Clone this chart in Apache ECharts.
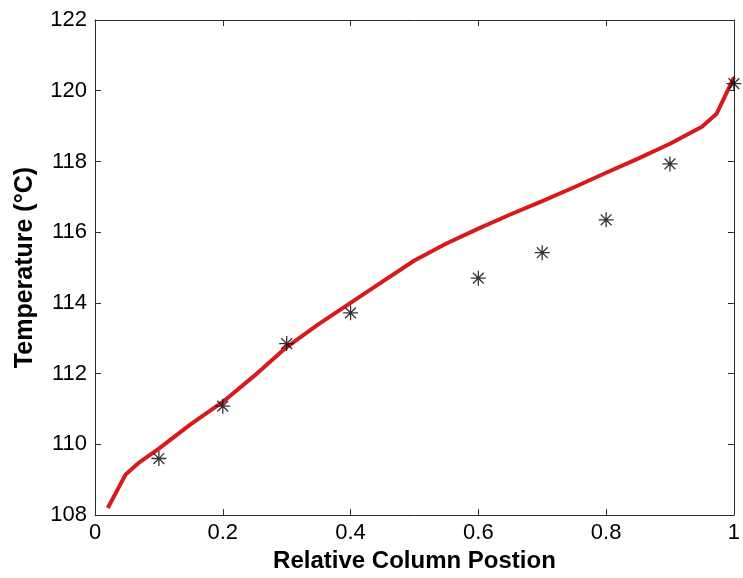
<!DOCTYPE html>
<html>
<head>
<meta charset="utf-8">
<script src="https://cdn.jsdelivr.net/npm/echarts@6/dist/echarts.min.js"></script>
<style>
  html, body { margin: 0; padding: 0; background: #fff; }
  #chart { width: 743px; height: 578px; }
</style>
</head>
<body>
<div id="chart"></div>
<script>
// Simulated column temperature profile (red line)
const profilePos = [0.02, 0.048, 0.07, 0.1, 0.15, 0.2, 0.25, 0.3, 0.35, 0.4, 0.45, 0.5,
                    0.55, 0.6, 0.65, 0.7, 0.75, 0.8, 0.85, 0.9, 0.95, 0.973, 1.0];
const profileTemp = [108.2, 109.15, 109.5, 109.88, 110.57, 111.2, 111.95, 112.75, 113.4, 114.0, 114.6, 115.2,
                     115.68, 116.1, 116.5, 116.88, 117.27, 117.68, 118.08, 118.5, 118.98, 119.35, 120.37];

// Measured temperatures (asterisks)
const measPos = [0.1, 0.2, 0.3, 0.4, 0.6, 0.7, 0.8, 0.9, 1.0];
const measTemp = [109.6, 111.08, 112.85, 113.72, 114.7, 115.42, 116.35, 117.93, 120.2];

// Axis ranges and ticks
const xRange = [0, 1], xStep = 0.2;
const yRange = [108, 122], yStep = 2;

const zip = (a, b) => a.map((v, i) => [v, b[i]]);

const FONT = 'Liberation Sans, Arial, sans-serif';
const AXIS_COLOR = '#2b2b2b';

function frameAxis(extra) {
  return Object.assign({
    type: 'value',
    axisLine: { show: true, onZero: false, lineStyle: { color: AXIS_COLOR, width: 1 } },
    axisTick: { show: true, inside: true, length: 6, lineStyle: { color: AXIS_COLOR } },
    splitLine: { show: false },
    axisLabel: { show: false }
  }, extra);
}

const labelStyle = { show: true, color: '#000', fontFamily: FONT, fontSize: 22 };
const nameStyle = { color: '#000', fontFamily: FONT, fontSize: 24, fontWeight: 'bold' };

const asterisk = 'path://M0,-1L0,1M-1,0L1,0M-0.72,-0.72L0.72,0.72M-0.72,0.72L0.72,-0.72';

const chart = echarts.init(document.getElementById('chart'), null, { renderer: 'canvas' });
chart.setOption({
  animation: false,
  backgroundColor: '#fff',
  grid: { left: 95, right: 4, top: 20, bottom: 56, containLabel: false },
  xAxis: [
    frameAxis({
      position: 'bottom', min: xRange[0], max: xRange[1], interval: xStep,
      axisLabel: Object.assign({ margin: 7 }, labelStyle),
      name: 'Relative Column Postion', nameLocation: 'middle', nameGap: 33,
      nameTextStyle: nameStyle
    }),
    frameAxis({ position: 'top', min: xRange[0], max: xRange[1], interval: xStep })
  ],
  yAxis: [
    frameAxis({
      position: 'left', min: yRange[0], max: yRange[1], interval: yStep,
      axisLabel: Object.assign({ margin: 8 }, labelStyle),
      name: 'Temperature (°C)', nameLocation: 'middle', nameGap: 57, nameRotate: 90,
      nameTextStyle: Object.assign({}, nameStyle, { fontSize: 25 })
    }),
    frameAxis({ position: 'right', min: yRange[0], max: yRange[1], interval: yStep })
  ],
  series: [
    {
      type: 'line',
      data: zip(profilePos, profileTemp),
      showSymbol: false,
      smooth: false,
      lineStyle: { color: '#d81a1a', width: 4 },
      z: 2
    },
    {
      type: 'scatter',
      data: zip(measPos, measTemp),
      symbol: asterisk,
      symbolSize: 15,
      itemStyle: { color: 'rgba(0,0,0,0)', borderColor: '#000', borderWidth: 1.3 },
      z: 3
    }
  ]
});
</script>
</body>
</html>
